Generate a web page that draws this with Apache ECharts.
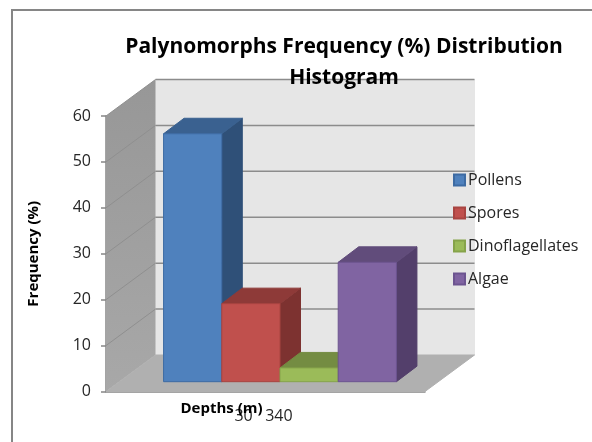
<!DOCTYPE html>
<html>
<head>
<meta charset="utf-8">
<style>
  html, body { margin: 0; padding: 0; background: #fff; }
  #chart { width: 592px; height: 442px; }
</style>
<script src="https://cdn.jsdelivr.net/npm/echarts@6/dist/echarts.min.js"></script>
</head>
<body>
<div id="chart"></div>
<script>
const categories = ['30   340']
const yTicks = [0, 10, 20, 30, 40, 50, 60]
const seriesNames = ['Pollens', 'Spores', 'Dinoflagellates', 'Algae']
const seriesValues = [54, 17, 3, 26]

const frontColors = ['#4f81bd', '#c0504d', '#9bbb59', '#8064a2']
const topColors = ['#3a6190', '#8e3a38', '#748c42', '#614c7b']
const sideColors = ['#2f5078', '#7d3230', '#657a3a', '#533f6b']
const edgeColors = ['#3d6ba3', '#a84441', '#86a34a', '#6c5490']

const fontName = '"Open Sans", sans-serif'
// 3d offsets in px, wall = full floor depth, bar = depth of a column
const wallDepth = [49.5, -36.5]
const barDepth = [20.5, -15.5]
const barInset = [14.5, -9.8]
const barShare = 0.1825

const chart = echarts.init(document.getElementById('chart'))

const shift = (p, d) => [p[0] + d[0], p[1] + d[1]]
const poly = (points, fill, stroke, lineWidth) => ({
  type: 'polygon',
  shape: { points },
  style: { fill, stroke: stroke || fill, lineWidth: lineWidth === undefined ? 1 : lineWidth }
})
const line = (a, b, stroke, lineWidth) => ({
  type: 'line',
  shape: { x1: a[0], y1: a[1], x2: b[0], y2: b[1] },
  style: { stroke, lineWidth }
})

// back wall, side wall, floor and their grid lines
const renderWalls = (params, api) => {
  const band = api.size([1, 0])[0]
  const center = api.coord([0, 0])
  const x0 = center[0] - band / 2
  const x1 = center[0] + band / 2
  const top = api.coord([0, 60])[1]
  const base = center[1]
  const fl = [x0, base]
  const fr = [x1, base]
  const tl = [x0, top]
  const children = [
    poly([shift(tl, wallDepth), shift([x1, top], wallDepth), shift(fr, wallDepth), shift(fl, wallDepth)], '#e6e6e6'),
    {
      type: 'polygon',
      shape: { points: [tl, shift(tl, wallDepth), shift(fl, wallDepth), fl] },
      style: {
        fill: new echarts.graphic.LinearGradient(0, 0, 0, 1, [
          { offset: 0, color: '#979797' },
          { offset: 1, color: '#a8a8a8' }
        ])
      }
    },
    poly([fl, fr, shift(fr, wallDepth), shift(fl, wallDepth)], '#b0b0b0')
  ]
  yTicks.slice(1).forEach((tick) => {
    const y = api.coord([0, tick])[1]
    const front = [x0, y]
    const back = shift(front, wallDepth)
    children.push(line(front, back, '#8f8f8f', 1))
    children.push(line(back, [back[0] + band, back[1]], '#8c8c8c', 1.5))
  })
  return { type: 'group', children }
}

// one 3d column per series, placed side by side in the single category
const renderColumn = (index) => (params, api) => {
  const band = api.size([1, 0])[0]
  const width = band * barShare
  const base = api.coord([0, 0])
  const top = api.coord([0, api.value(1)])
  const left = base[0] + barInset[0] + (index - seriesNames.length / 2) * width
  const right = left + width
  const yBase = base[1] + barInset[1]
  const yTop = top[1] + barInset[1]
  const tl = [left, yTop]
  const tr = [right, yTop]
  const bl = [left, yBase]
  const br = [right, yBase]
  return {
    type: 'group',
    children: [
      poly([tr, shift(tr, barDepth), shift(br, barDepth), br], sideColors[index]),
      poly([tl, shift(tl, barDepth), shift(tr, barDepth), tr], topColors[index]),
      poly([tl, tr, br, bl], frontColors[index], edgeColors[index])
    ]
  }
}

const columnSeries = seriesNames.map((name, index) => ({
  name,
  type: 'custom',
  z: 3 + index,
  data: [[0, seriesValues[index]]],
  encode: { x: 0, y: 1 },
  itemStyle: { color: frontColors[index], borderColor: edgeColors[index], borderWidth: 1 },
  renderItem: renderColumn(index)
}))

const options = {
  backgroundColor: '#fff',
  animation: false,
  title: {
    text: 'Palynomorphs Frequency (%) Distribution\nHistogram',
    left: 339,
    top: 27,
    textAlign: 'center',
    z: 20,
    textStyle: { fontFamily: fontName, fontSize: 21, fontWeight: 'bold', color: '#000', lineHeight: 31 }
  },
  legend: {
    orient: 'vertical',
    left: 453,
    top: 170,
    padding: 0,
    itemWidth: 11,
    itemHeight: 11,
    itemGap: 13,
    icon: 'rect',
    data: seriesNames,
    textStyle: { fontFamily: fontName, fontSize: 16, color: '#262626', lineHeight: 20, padding: [0, 0, 0, -2] }
  },
  grid: { left: 106, top: 116, width: 319, height: 275.5 },
  xAxis: {
    type: 'category',
    data: categories,
    axisLine: { lineStyle: { color: '#868686', width: 1.5 } },
    axisTick: { length: 5, lineStyle: { color: '#868686', width: 1.5 } },
    axisLabel: { fontFamily: fontName, fontSize: 16, color: '#262626', margin: 17, padding: [0, 4, 0, 0] }
  },
  yAxis: {
    type: 'value',
    min: 0,
    max: 60,
    interval: 10,
    name: 'Frequency (%)',
    nameLocation: 'middle',
    nameGap: 65,
    nameRotate: 90,
    nameTextStyle: { fontFamily: fontName, fontSize: 15, fontWeight: 'bold', color: '#000' },
    splitLine: { show: false },
    axisLine: { show: true, lineStyle: { color: '#868686', width: 1.5 } },
    axisTick: { show: true, length: 5, lineStyle: { color: '#868686', width: 1.5 } },
    axisLabel: { fontFamily: fontName, fontSize: 16, color: '#262626', margin: 15, padding: [2, 0, 0, 0] }
  },
  graphic: [
    {
      type: 'rect',
      z: -1,
      shape: { x: 12, y: 10, width: 600, height: 450 },
      style: { fill: 'none', stroke: '#868686', lineWidth: 2 }
    },
    {
      type: 'text',
      z: 20,
      x: 221.5,
      y: 409,
      style: {
        text: 'Depths (m)',
        fontFamily: fontName,
        fontSize: 15,
        fontWeight: 'bold',
        fill: '#000',
        textAlign: 'center',
        textVerticalAlign: 'middle'
      }
    }
  ],
  series: [
    {
      name: 'walls',
      type: 'custom',
      z: 1,
      silent: true,
      data: [[0, 0]],
      encode: { x: 0, y: 1 },
      renderItem: renderWalls
    },
    ...columnSeries
  ]
}

chart.setOption(options)
</script>
</body>
</html>
